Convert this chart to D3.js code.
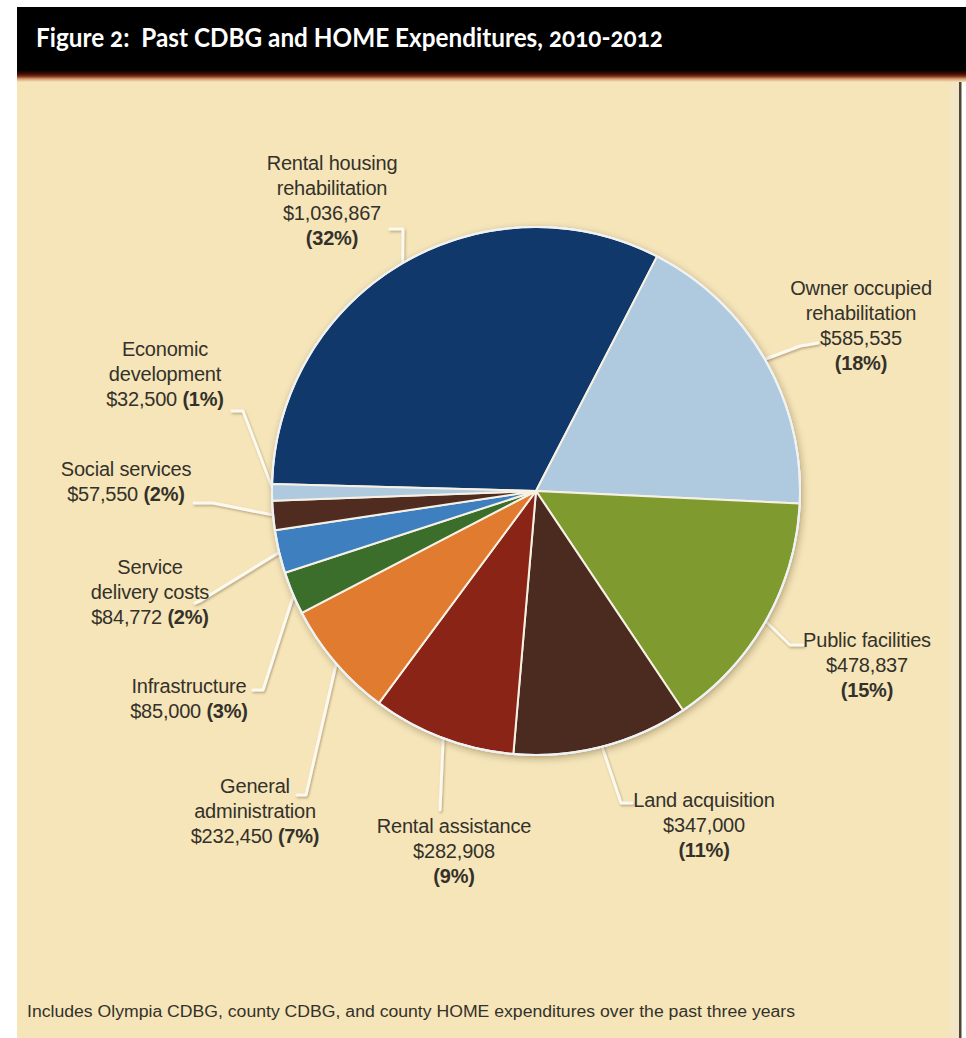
<!DOCTYPE html>
<html>
<head>
<meta charset="utf-8">
<script src="https://cdn.jsdelivr.net/npm/d3@7"></script>
<style>
  html, body { margin: 0; padding: 0; background: #ffffff; }
  svg { display: block; }
</style>
</head>
<body>
<svg id="chart" width="966" height="1038"></svg>
<script>
// ---- Data -------------------------------------------------------------
const categories = [
  "Rental housing rehabilitation", "Owner occupied rehabilitation", "Public facilities",
  "Land acquisition", "Rental assistance", "General administration", "Infrastructure",
  "Service delivery costs", "Social services", "Economic development"
];
const amounts = [1036867, 585535, 478837, 347000, 282908, 232450, 85000, 84772, 57550, 32500];
const shareLabels = ["(32%)", "(18%)", "(15%)", "(11%)", "(9%)", "(7%)", "(3%)", "(2%)", "(2%)", "(1%)"];
const labelNameLines = [
  ["Rental housing", "rehabilitation"], ["Owner occupied", "rehabilitation"], ["Public facilities"],
  ["Land acquisition"], ["Rental assistance"], ["General", "administration"], ["Infrastructure"],
  ["Service", "delivery costs"], ["Social services"], ["Economic", "development"]
];
const titleText = "Figure 2:  Past CDBG and HOME Expenditures, 2010-2012";
const noteText = "Includes Olympia CDBG, county CDBG, and county HOME expenditures over the past three years";

// ---- Styles -----------------------------------------------------------
const sliceColors = ["#10386a", "#afc9df", "#7f9b30", "#4b2a1f", "#8a2416",
                     "#e07b30", "#3b6e2b", "#3e7fc0", "#4f2b20", "#afc9df"];
const panelColor = "#f5e5b9";
const textColor = "#34312a";

// Label placement: centre x, first baseline, whether value and share sit on one line,
// and the bend points of each leader after it leaves the slice edge.
const labelLayout = [
  { x: 332, y: 170, inline: false, bends: [[403, 229], [390, 229]] },
  { x: 861, y: 295, inline: false, bends: [[800, 346], [818, 343]] },
  { x: 867, y: 647, inline: false, bends: [[790, 645], [803, 645]] },
  { x: 704, y: 807, inline: false, bends: [[621, 803], [632, 803]] },
  { x: 454, y: 833, inline: false, bends: [[440, 810]] },
  { x: 255, y: 793, inline: true,  bends: [[306, 795], [297, 795]] },
  { x: 189, y: 693, inline: true,  bends: [[263, 690], [253, 690]] },
  { x: 150, y: 574, inline: true,  bends: [[200, 601], [195, 603]] },
  { x: 126, y: 476, inline: true,  bends: [[213, 503], [194, 503]] },
  { x: 165, y: 356, inline: true,  bends: [[243, 411], [232, 411]] }
];
const lineStep = 25;

const W = 966, H = 1038;
const cx = 536, cy = 491, radius = 264;
const startDeg = -88.5;

const svg = d3.select("#chart");
const defs = svg.append("defs");

// Drop shadow used under the pie and the leader lines
const shadow = defs.append("filter").attr("id", "soft-shadow")
  .attr("x", "-20%").attr("y", "-20%").attr("width", "140%").attr("height", "140%");
shadow.append("feDropShadow").attr("dx", 1.5).attr("dy", 2.5)
  .attr("stdDeviation", 3.5).attr("flood-color", "#3a2a10").attr("flood-opacity", 0.35);

const leaderShadow = defs.append("filter").attr("id", "leader-shadow")
  .attr("x", "-20%").attr("y", "-20%").attr("width", "140%").attr("height", "140%");
leaderShadow.append("feDropShadow").attr("dx", 1).attr("dy", 1.5)
  .attr("stdDeviation", 1.2).attr("flood-color", "#6a5530").attr("flood-opacity", 0.45);

// Fade from the black heading bar into the panel
const fade = defs.append("linearGradient").attr("id", "bar-fade")
  .attr("x1", 0).attr("y1", 0).attr("x2", 0).attr("y2", 1);
[[0, "#000000"], [0.3, "#3a0d04"], [0.5, "#76280f"], [0.75, "#d6a074"], [1, panelColor]]
  .forEach(([o, c]) => fade.append("stop").attr("offset", o).attr("stop-color", c));

// ---- Frame ------------------------------------------------------------
svg.append("rect").attr("width", W).attr("height", H).attr("fill", "#ffffff");
svg.append("rect").attr("x", 17).attr("y", 72).attr("width", 944).attr("height", H - 72)
  .attr("fill", panelColor);
svg.append("rect").attr("x", 950).attr("y", 80).attr("width", 9).attr("height", H - 80)
  .attr("fill", "#f2e6c6");
svg.append("rect").attr("x", 959).attr("y", 80).attr("width", 2.5).attr("height", H - 80)
  .attr("fill", "#4e4532");
svg.append("rect").attr("x", 17).attr("y", 7).attr("width", W - 17).attr("height", 64)
  .attr("fill", "#000000");
svg.append("rect").attr("x", 17).attr("y", 70).attr("width", W - 17).attr("height", 12)
  .attr("fill", "url(#bar-fade)");

svg.append("text")
  .attr("x", 36).attr("y", 47)
  .attr("fill", "#ffffff")
  .attr("font-family", "Lato, 'Open Sans', sans-serif")
  .attr("font-weight", 700)
  .attr("font-size", 26)
  .style("font-variant-numeric", "oldstyle-nums")
  .attr("textLength", 627).attr("lengthAdjust", "spacingAndGlyphs")
  .attr("xml:space", "preserve")
  .text(titleText);

// ---- Pie --------------------------------------------------------------
const pie = d3.pie().sort(null).value(d => d)
  .startAngle(startDeg * Math.PI / 180)
  .endAngle(startDeg * Math.PI / 180 + 2 * Math.PI);
const arcs = pie(amounts);
const arc = d3.arc().innerRadius(0).outerRadius(radius);
const color = d3.scaleOrdinal().domain(categories).range(sliceColors);

// Leader lines sit underneath the pie
const leaderGroup = svg.append("g").attr("filter", "url(#leader-shadow)");
arcs.forEach((a, i) => {
  const mid = (a.startAngle + a.endAngle) / 2;
  const edge = [cx + Math.sin(mid) * (radius - 2), cy - Math.cos(mid) * (radius - 2)];
  const pts = [edge].concat(labelLayout[i].bends);
  leaderGroup.append("path")
    .attr("d", d3.line()(pts))
    .attr("fill", "none")
    .attr("stroke", "#fdf9ef")
    .attr("stroke-width", 3)
    .attr("stroke-linejoin", "round")
    .attr("stroke-linecap", "round");
});

const pieGroup = svg.append("g").attr("transform", `translate(${cx},${cy})`);
pieGroup.append("circle").attr("r", radius + 1).attr("fill", "#e9eef3")
  .attr("filter", "url(#soft-shadow)");
pieGroup.selectAll("path.slice")
  .data(arcs)
  .join("path")
  .attr("class", "slice")
  .attr("d", arc)
  .attr("fill", (d, i) => color(categories[i]))
  .attr("stroke", "#f7f1e4")
  .attr("stroke-width", 2)
  .attr("stroke-linejoin", "round");
pieGroup.append("circle").attr("r", radius).attr("fill", "none")
  .attr("stroke", "#eef2f5").attr("stroke-width", 2);

// ---- Labels -----------------------------------------------------------
const money = d3.format("$,");
const labelGroup = svg.append("g")
  .attr("font-family", "'Liberation Sans', Arial, sans-serif")
  .attr("font-size", 20)
  .attr("fill", textColor)
  .attr("text-anchor", "middle");

categories.forEach((name, i) => {
  const lay = labelLayout[i];
  const t = labelGroup.append("text").attr("letter-spacing", -0.2);
  let row = 0;
  labelNameLines[i].forEach(line => {
    t.append("tspan").attr("x", lay.x).attr("y", lay.y + row * lineStep).text(line);
    row++;
  });
  if (lay.inline) {
    const ln = t.append("tspan").attr("x", lay.x).attr("y", lay.y + row * lineStep);
    ln.text(money(amounts[i]) + " ");
    t.append("tspan").attr("font-weight", 700).text(shareLabels[i]);
  } else {
    t.append("tspan").attr("x", lay.x).attr("y", lay.y + row * lineStep).text(money(amounts[i]));
    row++;
    t.append("tspan").attr("x", lay.x).attr("y", lay.y + row * lineStep)
      .attr("font-weight", 700).text(shareLabels[i]);
  }
});

// ---- Note -------------------------------------------------------------
svg.append("text")
  .attr("x", 27).attr("y", 1017)
  .attr("font-family", "'Liberation Sans', Arial, sans-serif")
  .attr("font-size", 16)
  .attr("fill", textColor)
  .attr("textLength", 768).attr("lengthAdjust", "spacingAndGlyphs")
  .text(noteText);
</script>
</body>
</html>
